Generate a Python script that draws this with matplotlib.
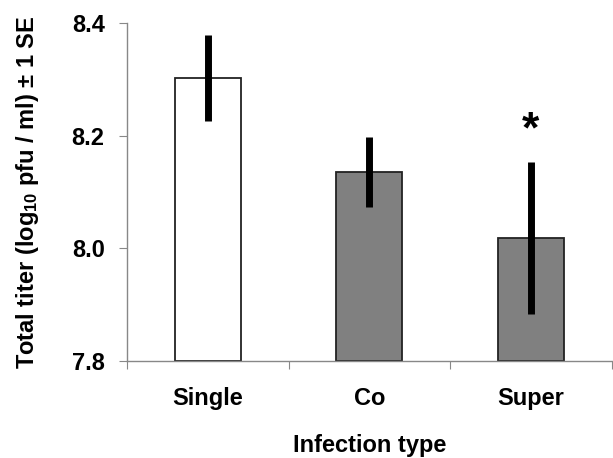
import matplotlib
matplotlib.use("Agg")
import matplotlib.pyplot as plt

categories = ["Single", "Co", "Super"]
means = [8.302, 8.135, 8.018]
se = [0.077, 0.062, 0.135]
fills = ["white", "#808080", "#808080"]
yticks = [7.8, 8.0, 8.2, 8.4]

plt.rcParams['font.family'] = ['Liberation Sans', 'DejaVu Sans']
plt.rcParams['font.weight'] = 'bold'
plt.rcParams['mathtext.default'] = 'regular'

FS = 17
fig = plt.figure(figsize=(6.13, 4.58), dpi=100)
ax = fig.add_axes([0.207, 0.212, 0.791, 0.738])

x = list(range(len(categories)))
base = yticks[0]
ax.bar(x, [m - base for m in means], bottom=base, width=0.41, color=fills,
       edgecolor="#222222", linewidth=1.3, zorder=2)
ax.errorbar(x, means, yerr=se, fmt='none', ecolor='black', elinewidth=5,
            capsize=0, zorder=3)
ax.text(x[2], means[2] + se[2] + 0.055, "*", ha='center', va='center',
        fontsize=32, fontweight='bold')

ax.set_xlim(-0.5, 2.5)
ax.set_ylim(yticks[0], yticks[-1])
ax.set_yticks(yticks)
ax.set_yticklabels([f"{v:.1f}" for v in yticks], fontsize=FS, fontweight='bold')
ax.set_xticks([-0.5, 0.5, 1.5, 2.5])
ax.set_xticklabels([])
ax.set_xticks(x, minor=True)
ax.set_xticklabels(categories, minor=True, fontsize=FS, fontweight='bold')
ax.tick_params(axis='x', which='minor', length=0, pad=19)
ax.tick_params(axis='x', which='major', length=6, color='#888888', direction='out')
ax.tick_params(axis='y', length=6, color='#888888', direction='out', pad=10)

for s in ['top', 'right']:
    ax.spines[s].set_visible(False)
for s in ['left', 'bottom']:
    ax.spines[s].set_color('#888888')
    ax.spines[s].set_linewidth(1.0)

ax.set_ylabel(r"Total titer (log$_{10}$ pfu / ml) ± 1 SE", fontsize=FS,
              fontweight='bold', labelpad=22)
ax.set_xlabel("Infection type", fontsize=FS, fontweight='bold', labelpad=17)

fig.savefig("out.png", dpi=100)
